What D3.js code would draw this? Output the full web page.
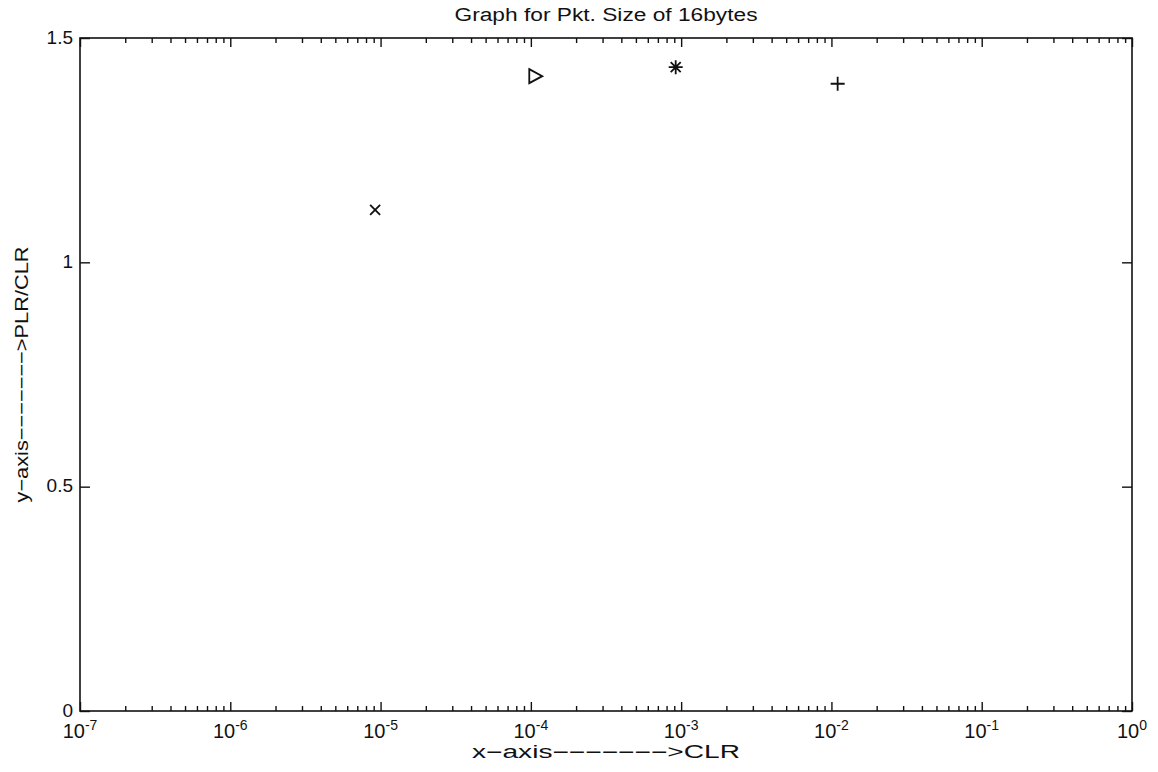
<!DOCTYPE html>
<html>
<head>
<meta charset="utf-8">
<script src="https://cdn.jsdelivr.net/npm/d3@7"></script>
<style>
  html, body { margin: 0; padding: 0; background: #fff; }
  svg text { font-family: "Liberation Sans", Arial, sans-serif; fill: #111; }
</style>
</head>
<body>
<div id="chart"></div>
<script>
// data
const markerKinds = ["cross", "triangle", "asterisk", "plus"]
const clrValues = [9.2e-6, 1.07e-4, 9.2e-4, 1.1e-2]
const plrOverClr = [1.117, 1.415, 1.435, 1.398]
const xMajorTicks = [1e-7, 1e-6, 1e-5, 1e-4, 1e-3, 1e-2, 1e-1, 1e0]
const xExponents = ["-7", "-6", "-5", "-4", "-3", "-2", "-1", "0"]
const yTicks = [0, 0.5, 1, 1.5]
const yTickLabels = ["0", "0.5", "1", "1.5"]

const width = 1158, height = 772
const margin = { top: 38, right: 26, bottom: 61, left: 80 }

const x = d3.scaleLog()
   .domain([1e-7, 1])
   .range([margin.left, width - margin.right])

const y = d3.scaleLinear()
   .domain([0, 1.5])
   .range([height - margin.bottom, margin.top])

// minor ticks 2..9 in every decade
const xMinorTicks = []
xMajorTicks.slice(0, -1).forEach(t => {
   for (let k = 2; k <= 9; k++) xMinorTicks.push(t * k)
})

const svg = d3.select("#chart").append("svg")
   .attr("width", width)
   .attr("height", height)
   .attr("viewBox", [0, 0, width, height])

svg.append("rect")
   .attr("x", x.range()[0])
   .attr("y", y.range()[1])
   .attr("width", x.range()[1] - x.range()[0])
   .attr("height", y.range()[0] - y.range()[1])
   .attr("fill", "white")
   .attr("stroke", "#111")
   .attr("stroke-width", 1.6)

const tickStyle = g => g
   .call(g => g.select(".domain").remove())
   .call(g => g.selectAll(".tick line").attr("stroke", "#111").attr("stroke-width", 1.4))

// bottom / top ticks pointing inward
svg.append("g")
   .attr("transform", `translate(0,${y(0)})`)
   .call(d3.axisBottom(x).tickValues(xMajorTicks).tickSize(-9).tickFormat(""))
   .call(tickStyle)
svg.append("g")
   .attr("transform", `translate(0,${y(0)})`)
   .call(d3.axisBottom(x).tickValues(xMinorTicks).tickSize(-5).tickFormat(""))
   .call(tickStyle)
svg.append("g")
   .attr("transform", `translate(0,${y(1.5)})`)
   .call(d3.axisTop(x).tickValues(xMajorTicks).tickSize(-9).tickFormat(""))
   .call(tickStyle)
svg.append("g")
   .attr("transform", `translate(0,${y(1.5)})`)
   .call(d3.axisTop(x).tickValues(xMinorTicks).tickSize(-5).tickFormat(""))
   .call(tickStyle)

// left / right ticks pointing inward
svg.append("g")
   .attr("transform", `translate(${x(1e-7)},0)`)
   .call(d3.axisLeft(y).tickValues(yTicks).tickSize(-10).tickFormat(""))
   .call(tickStyle)
svg.append("g")
   .attr("transform", `translate(${x(1)},0)`)
   .call(d3.axisRight(y).tickValues(yTicks).tickSize(-10).tickFormat(""))
   .call(tickStyle)

// y tick labels
svg.append("g")
   .attr("font-size", 19)
   .attr("text-anchor", "end")
   .selectAll("text")
   .data(yTicks)
   .join("text")
   .attr("x", x(1e-7) - 7)
   .attr("y", d => y(d))
   .attr("dy", "0.3em")
   .text((d, i) => yTickLabels[i])

// x tick labels 10^n
const xl = svg.append("g")
   .attr("font-size", 20)
   .attr("text-anchor", "middle")
   .selectAll("text")
   .data(xMajorTicks)
   .join("text")
   .attr("x", d => x(d))
   .attr("y", y(0) + 27)
xl.append("tspan").text("10")
xl.append("tspan")
   .attr("font-size", 14)
   .attr("dy", "-0.6em")
   .text((d, i) => xExponents[i])

// markers
const symbolPath = {
   cross: "M-5,-5L5,5M-5,5L5,-5",
   plus: "M-7,0L7,0M0,-7L0,7",
   triangle: "M-6,-7L7,0L-6,7Z",
   asterisk: "M-7,0L7,0M0,-7L0,7M-5,-5L5,5M-5,5L5,-5"
}

svg.append("g")
   .selectAll("path")
   .data(clrValues)
   .join("path")
   .attr("transform", (d, i) => `translate(${x(d)},${y(plrOverClr[i])})`)
   .attr("d", (d, i) => symbolPath[markerKinds[i]])
   .attr("fill", "none")
   .attr("stroke", "#111")
   .attr("stroke-width", 1.8)

// title and axis labels (stretched a bit wide, as in the scan)
svg.append("text")
   .attr("x", (x.range()[0] + x.range()[1]) / 2)
   .attr("y", 21)
   .attr("text-anchor", "middle")
   .attr("font-size", 18)
   .attr("textLength", 303)
   .attr("lengthAdjust", "spacingAndGlyphs")
   .text("Graph for Pkt. Size of 16bytes")

svg.append("text")
   .attr("x", (x.range()[0] + x.range()[1]) / 2)
   .attr("y", 758)
   .attr("text-anchor", "middle")
   .attr("font-size", 18)
   .attr("textLength", 268)
   .attr("lengthAdjust", "spacingAndGlyphs")
   .text("x\u2212axis\u2212\u2212\u2212\u2212\u2212\u2212\u2212>CLR")

svg.append("text")
   .attr("transform", `translate(28,${(y.range()[0] + y.range()[1]) / 2}) rotate(-90)`)
   .attr("text-anchor", "middle")
   .attr("font-size", 19)
   .attr("textLength", 256)
   .attr("lengthAdjust", "spacingAndGlyphs")
   .text("y\u2212axis\u2212\u2212\u2212\u2212\u2212\u2212\u2212>PLR/CLR")
</script>
</body>
</html>
